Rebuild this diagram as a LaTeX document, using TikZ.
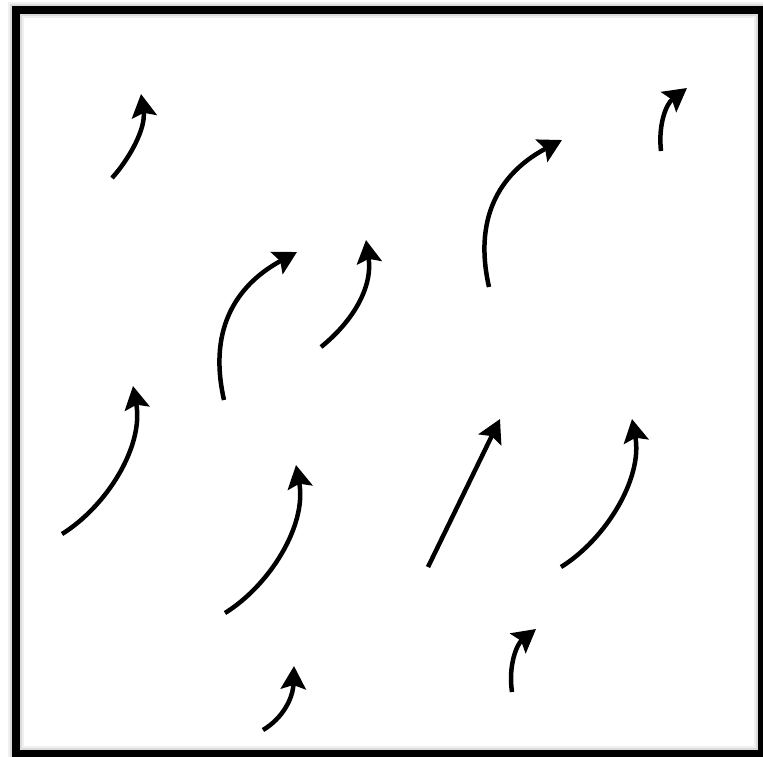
\documentclass[tikz,border=0pt]{standalone}
\usetikzlibrary{arrows.meta}
\begin{document}
\begin{tikzpicture}[x=1pt,y=-1pt,
  flow/.style={line width=4.5pt,-{Stealth[length=23pt,width=25pt,inset=4pt]}}]
\useasboundingbox (0,0) rectangle (763,756);
\fill[white] (0,0) rectangle (763,756);
% frame with soft glow
\draw[black!6,line width=16pt] (16,10) rectangle (762,754);
\draw[black!14,line width=12pt] (16,10) rectangle (762,754);
\draw[black,line width=8.5pt] (16,10) rectangle (762,754);
% coordinates
\coordinate (s1) at (112,178);  \coordinate (t1) at (141,94);
\coordinate (s2) at (661,151);  \coordinate (t2) at (687,88);
\coordinate (s3) at (489,287);  \coordinate (t3) at (562,140);
\coordinate (s4) at (224,400);  \coordinate (t4) at (297,252);
\coordinate (s5) at (321,347);  \coordinate (t5) at (366,240);
\coordinate (s6) at (62,534);   \coordinate (t6) at (133,386);
\coordinate (s7) at (225,613);  \coordinate (t7) at (296,465);
\coordinate (s8) at (428,567);  \coordinate (t8) at (500,419);
\coordinate (s9) at (561,567);  \coordinate (t9) at (632,419);
\coordinate (s10) at (263,730); \coordinate (t10) at (294,666);
\coordinate (s11) at (512,692); \coordinate (t11) at (536,629);
% arrows
\draw[flow] (s1) .. controls (130,158) and (146,128) .. (t1);
\draw[flow] (s2) .. controls (658,125) and (666,104) .. (t2);
\draw[flow] (s3) .. controls (472,212) and (505,170) .. (t3);
\draw[flow] (s4) .. controls (207,325) and (240,283) .. (t4);
\draw[flow] (s5) .. controls (352,322) and (373,288) .. (t5);
\draw[flow] (s6) .. controls (107,506) and (144,446) .. (t6);
\draw[flow] (s7) .. controls (270,585) and (307,525) .. (t7);
\draw[flow] (s8) -- (t8);
\draw[flow] (s9) .. controls (606,539) and (643,478) .. (t9);
\draw[flow] (s10) .. controls (283,718) and (293,698) .. (t10);
\draw[flow] (s11) .. controls (508,665) and (517,644) .. (t11);
\end{tikzpicture}
\end{document}
